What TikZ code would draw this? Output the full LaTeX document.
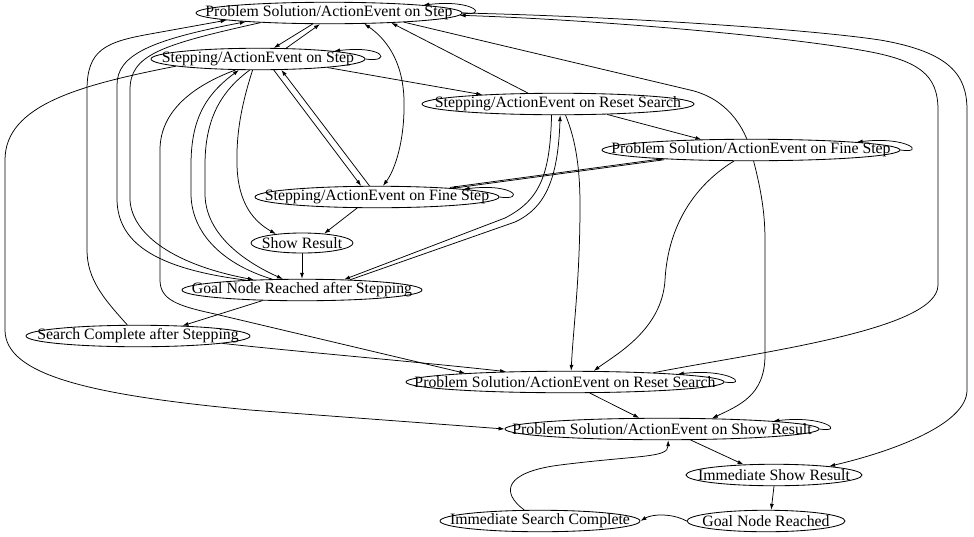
\documentclass[tikz,border=0pt]{standalone}
\usepackage{fontspec}
\setmainfont{Liberation Serif}
\usetikzlibrary{arrows.meta,shapes.geometric,calc}
\pgfdeclarelayer{bg}
\pgfsetlayers{bg,main}
\tikzset{
  st/.style={ellipse, draw, line width=0.85pt, fill=white, inner sep=0pt,
    minimum height=21.5pt, font=\fontsize{15.8}{19}\selectfont},
  edge/.style={draw, line width=0.75pt, ->},
  >={Latex[length=6pt,width=4pt]}
}
\newcommand\nlbl[1]{\makebox[0pt]{#1}}
\newcommand\sloop[1]{\draw[edge] (#1.east) .. controls +(26,4) and +(52,-6) .. (#1.north east);}
\begin{document}
\begin{tikzpicture}[x=1pt,y=-1pt]
\useasboundingbox (0,0) rectangle (974,536);
\node[st, minimum width=266pt] (pss) at (329,13) {\nlbl{Problem Solution/ActionEvent on Step}};
\node[st, minimum width=214pt] (sts) at (258,59) {\nlbl{Stepping/ActionEvent on Step}};
\node[st, minimum width=272pt] (str) at (558,104) {\nlbl{Stepping/ActionEvent on Reset Search}};
\node[st, minimum width=298pt] (psf) at (751,150) {\nlbl{Problem Solution/ActionEvent on Fine Step}};
\node[st, minimum width=244pt] (stf) at (377,197) {\nlbl{Stepping/ActionEvent on Fine Step}};
\node[st, minimum width=102pt, minimum height=20pt] (shr) at (302,243) {\nlbl{Show Result}};
\node[st, minimum width=240pt] (gns) at (302,290) {\nlbl{Goal Node Reached after Stepping}};
\node[st, minimum width=224pt] (scs) at (138,336) {\nlbl{Search Complete after Stepping}};
\node[st, minimum width=318pt] (psr) at (565,382) {\nlbl{Problem Solution/ActionEvent on Reset Search}};
\node[st, minimum width=314pt] (pssr) at (662,429) {\nlbl{Problem Solution/ActionEvent on Show Result}};
\node[st, minimum width=176pt] (isr) at (774,475) {\nlbl{Immediate Show Result}};
\node[st, minimum width=200pt] (isc) at (540,521) {\nlbl{Immediate Search Complete}};
\node[st, minimum width=158pt] (gn) at (766,521) {\nlbl{Goal Node Reached}};

\begin{pgfonlayer}{bg}
% pss <-> sts
\draw[edge] (pss.214) -- (sts.35);
\draw[edge] (sts.21) -- (pss.231);
% scs -> pss
\draw[edge] (scs.134) .. controls (105,300) and (87,280) .. (87,250) -- (87,90) .. controls (87,50) and (105,42) .. (150,34) -- (pss.184);
% pss <-> gns
\draw[edge] (gns.170) .. controls (150,268) and (118,240) .. (117,200) -- (117,85) .. controls (117,55) and (150,40) .. (pss.186);
\draw[edge] (pss.188) .. controls (160,45) and (130,55) .. (130,90) -- (130,200) .. controls (132,235) and (175,265) .. (gns.168);
% sts <-> gns
\draw[edge] (gns.160) .. controls (225,265) and (192,235) .. (191,195) -- (191,165) .. controls (191,120) and (205,95) .. (sts.210);
\draw[edge] (sts.233) .. controls (220,92) and (205,120) .. (205,165) -- (205,195) .. controls (206,235) and (245,262) .. (gns.150);
% sts -> psr (left)
\draw[edge] (sts.206) .. controls (195,85) and (160,110) .. (160,150) -- (160,280) .. controls (160,300) and (178,306) .. (215,314) -- (psr.175);
% sts -> shr
\draw[edge] (sts.244) .. controls (243,100) and (236,130) .. (237,165) .. controls (238,205) and (255,222) .. (shr.161);
% stf -> shr, shr -> gns, gns -> scs
\draw[edge] (stf.209) -- (shr.23);
\draw[edge] (shr.south) -- (gns.north);
\draw[edge] (gns.195) -- (scs.13);
% sts <-> stf
\draw[edge] (sts.325) -- (stf.145);
\draw[edge] (stf.124) -- (sts.335);
% pss <-> stf
\draw[edge, <->] (pss.343) .. controls (385,38) and (403,60) .. (404,100) .. controls (405,140) and (395,170) .. (stf.62);
% str -> pss
\draw[edge] (str.160) -- (pss.351);
% pss -> pssr (through psf)
\draw[edge] (pss.353) -- (690,90) .. controls (725,98) and (745,125) .. (752,155) .. controls (760,185) and (765,210) .. (765,240) -- (765,355) .. controls (765,395) and (740,405) .. (pssr.12);
% sts -> str
\draw[edge] (sts.353) -- (str.173);
% str -> psf
\draw[edge] (str.348) -- (psf.168);
% stf <-> psf (thick double)
\draw[edge] ([yshift=0.6pt]stf.7) -- ([yshift=0.6pt]psf.186);
\draw[edge] ([yshift=-0.6pt]psf.186) -- ([yshift=-0.6pt]stf.7);
% gns <-> str
\draw[edge] (str.240) .. controls (550,175) and (540,200) .. (505,218) -- (gns.14);
\draw[edge] (gns.12) -- (515,222) .. controls (545,208) and (558,180) .. (str.281);
% str -> psr
\draw[edge] (str.304) .. controls (576,140) and (580,170) .. (580,205) .. controls (580,280) and (573,330) .. (psr.61);
% psf -> psr
\draw[edge] (psf.213) .. controls (695,185) and (668,225) .. (665,280) .. controls (662,330) and (615,355) .. (psr.21);
% psr -> pss (right)
\draw[edge] (psr.6) .. controls (760,352) and (938,330) .. (938,285) -- (938,110) .. controls (938,75) and (920,60) .. (860,50) .. controls (780,36) and (600,20) .. (pss.-1);
% pss -> isr (far right)
\draw[edge] (pss.east) .. controls (600,16) and (800,28) .. (880,40) .. controls (950,52) and (967,75) .. (967,110) -- (967,390) .. controls (967,425) and (890,452) .. (isr.9);
% lower chain
\draw[edge] (psr.336) -- (pssr.154);
\draw[edge] (pssr.339) -- (isr.161);
\draw[edge] (isr.south) -- (gn.65);
\draw[edge] (gn.west) .. controls (672,513) and (652,514) .. (isc.east);
\draw[edge] (isc.145) .. controls (500,492) and (505,472) .. (560,465) .. controls (640,455) and (668,458) .. (pssr.299);
% sts -> pssr (big left loop)
\draw[edge] (sts.185) .. controls (80,85) and (5,105) .. (5,160) -- (5,330) .. controls (5,375) and (90,395) .. (250,410) -- (pssr.west);
% scs -> psr
\draw[edge] (scs.355) .. controls (300,352) and (420,362) .. (psr.170);
% self loops
\sloop{pss}
\sloop{sts}
\sloop{stf}
\sloop{psf}
\sloop{psr}
\sloop{pssr}
\end{pgfonlayer}
\end{tikzpicture}
\end{document}
